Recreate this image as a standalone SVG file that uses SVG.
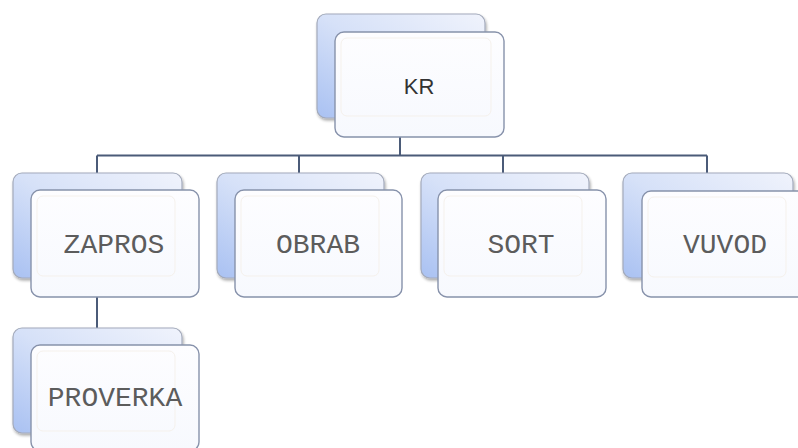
<svg xmlns="http://www.w3.org/2000/svg" width="798" height="448" viewBox="0 0 798 448">
<defs>
<linearGradient id="backGrad" x1="1" y1="0" x2="0" y2="1">
<stop offset="0" stop-color="#f0f3fc"/>
<stop offset="0.5" stop-color="#d6e1f8"/>
<stop offset="1" stop-color="#a9c1f2"/>
</linearGradient>
<linearGradient id="frontGrad" x1="0" y1="0" x2="0" y2="1">
<stop offset="0" stop-color="#fdfdff"/>
<stop offset="1" stop-color="#f7f9fe"/>
</linearGradient>
<filter id="shadow" x="-10%" y="-10%" width="130%" height="130%">
<feGaussianBlur in="SourceAlpha" stdDeviation="1.5"/>
<feOffset dx="1" dy="2" result="b"/>
<feComponentTransfer><feFuncA type="linear" slope="0.35"/></feComponentTransfer>
<feMerge><feMergeNode/><feMergeNode in="SourceGraphic"/></feMerge>
</filter>
</defs>
<style>
.back{fill:url(#backGrad);stroke:#a3aabb;stroke-width:1.2;filter:url(#shadow)}
.front{fill:url(#frontGrad);stroke:#8792ab;stroke-width:1.4}
.inner{fill:none;stroke:#f5f1ec;stroke-width:1}
.conn{stroke:#4b5b78;stroke-width:2;fill:none}
.lbl{font-family:"Liberation Mono","Courier New",monospace;font-size:28px;fill:#5c5c5c;text-anchor:middle;dominant-baseline:central}
.top{font-family:"Liberation Sans",Arial,sans-serif;font-size:22px;fill:#333;text-anchor:middle;dominant-baseline:central}
</style>
<rect width="798" height="448" fill="#ffffff"/>
<g id="connectors">
<path class="conn" d="M400 137V155.5M97 155.5H707M97 155.5V173M299 155.5V173M503 155.5V173M707 155.5V173M97 297V328"/>
</g>
<g id="node-KR">
<rect class="back" x="317" y="14" width="168" height="104" rx="9"/>
<rect class="front" x="335" y="32" width="169" height="105" rx="9"/>
<rect class="inner" x="341" y="38" width="150" height="78" rx="6"/>
<text class="top" x="419" y="86">KR</text>
</g>
<g id="node-ZAPROS">
<rect class="back" x="13" y="173" width="169" height="105" rx="9"/>
<rect class="front" x="31" y="190" width="168" height="107" rx="9"/>
<rect class="inner" x="37" y="196" width="138" height="80" rx="6"/>
<text class="lbl" x="114" y="245">ZAPROS</text>
</g>
<g id="node-OBRAB">
<rect class="back" x="217" y="173" width="167" height="105" rx="9"/>
<rect class="front" x="235" y="190" width="167" height="107" rx="9"/>
<rect class="inner" x="241" y="196" width="138" height="80" rx="6"/>
<text class="lbl" x="318" y="245">OBRAB</text>
</g>
<g id="node-SORT">
<rect class="back" x="421" y="173" width="168" height="105" rx="9"/>
<rect class="front" x="438" y="190" width="168" height="107" rx="9"/>
<rect class="inner" x="444" y="196" width="138" height="80" rx="6"/>
<text class="lbl" x="521" y="245">SORT</text>
</g>
<g id="node-VUVOD">
<rect class="back" x="623" y="173" width="170" height="105" rx="9"/>
<rect class="front" x="642" y="191" width="168" height="106" rx="9"/>
<rect class="inner" x="648" y="197" width="138" height="80" rx="6"/>
<text class="lbl" x="725" y="245">VUVOD</text>
</g>
<g id="node-PROVERKA">
<rect class="back" x="13" y="328" width="169" height="105" rx="9"/>
<rect class="front" x="31" y="345" width="168" height="106" rx="9"/>
<rect class="inner" x="37" y="351" width="138" height="80" rx="6"/>
<text class="lbl" x="115" y="398">PROVERKA</text>
</g>
</svg>
